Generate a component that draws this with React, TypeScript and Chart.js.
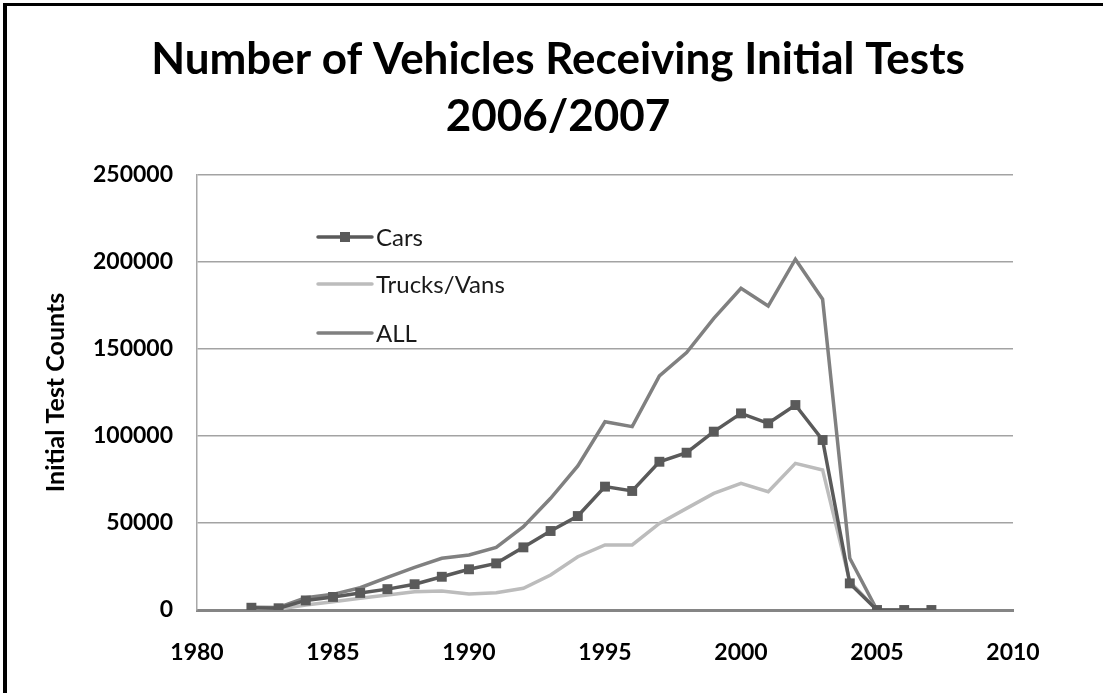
import React, { useEffect, useRef } from "react";
import { Chart, registerables } from "chart.js";

Chart.register(...registerables);

const years = [1982, 1983, 1984, 1985, 1986, 1987, 1988, 1989, 1990, 1991, 1992, 1993, 1994, 1995, 1996, 1997, 1998, 1999, 2000, 2001, 2002, 2003, 2004, 2005, 2006, 2007];
const cars = [1300, 1000, 5500, 7500, 9800, 12000, 14800, 19100, 23400, 26800, 36000, 45400, 54000, 70900, 68400, 85200, 90400, 102500, 113000, 107300, 117800, 97700, 15300, 0, 0, 0];
const trucksVans = [300, 500, 2900, 4800, 6700, 8600, 10500, 10900, 9200, 9900, 12500, 20100, 30600, 37400, 37400, 49800, 58400, 67000, 72800, 68000, 84300, 80500, 16300, 0, 0, 0];
const all = [1600, 1500, 7000, 9000, 12800, 18800, 24500, 29700, 31600, 36000, 47900, 64200, 82800, 108200, 105400, 134500, 147900, 167600, 184900, 174700, 201600, 178600, 29700, 0, 0, 0];

const seriesNames = ["Cars", "Trucks/Vans", "ALL"];
const titleLines = ["Number of Vehicles Receiving Initial Tests", "2006/2007"];
const yAxisTitle = "Initial Test Counts";

const FONT = "Lato, 'DejaVu Sans', sans-serif";

const titlePlugin = {
  id: "pageTitle",
  afterDraw(chart: any) {
    const ctx = chart.ctx;
    ctx.save();
    ctx.fillStyle = "#000";
    ctx.font = `bold 44px ${FONT}`;
    ctx.textAlign = "center";
    ctx.textBaseline = "alphabetic";
    const cx = 558;
    const baselines = [74, 131];
    titleLines.forEach((line, i) => ctx.fillText(line, cx, baselines[i]));
    ctx.restore();
  },
};

const legendPlugin = {
  id: "insideLegend",
  afterDatasetsDraw(chart: any) {
    const ctx = chart.ctx;
    const rows = [237, 284, 333];
    const x0 = 318;
    const x1 = 372;
    ctx.save();
    chart.data.datasets.forEach((ds: any, i: number) => {
      const y = rows[i];
      ctx.strokeStyle = ds.borderColor;
      ctx.lineWidth = ds.borderWidth;
      ctx.lineCap = "round";
      ctx.beginPath();
      ctx.moveTo(x0, y);
      ctx.lineTo(x1, y);
      ctx.stroke();
      if (ds.pointRadius > 0) {
        ctx.fillStyle = ds.pointBackgroundColor;
        const s = 10;
        ctx.fillRect((x0 + x1) / 2 - s / 2, y - s / 2, s, s);
      }
      ctx.fillStyle = "#1a1a1a";
      ctx.font = `24px ${FONT}`;
      ctx.textBaseline = "middle";
      ctx.textAlign = "left";
      ctx.fillText(ds.label, x1 + 4, y + 1);
    });
    ctx.restore();
  },
};

export default function App() {
  const canvasRef = useRef<HTMLCanvasElement | null>(null);

  useEffect(() => {
    let chart: Chart | null = null;
    let cancelled = false;
    const make = () => {
      if (cancelled || !canvasRef.current) return;
      const toXY = (arr: number[]) => arr.map((v, i) => ({ x: years[i], y: v }));
      chart = new Chart(canvasRef.current, {
        type: "line",
        data: {
          datasets: [
            {
              label: seriesNames[0],
              data: toXY(cars),
              borderColor: "#5a5a5a",
              backgroundColor: "#5a5a5a",
              pointBackgroundColor: "#5a5a5a",
              pointBorderWidth: 0,
              borderWidth: 3.5,
              pointStyle: "rect",
              pointRadius: 7,
              tension: 0,
            },
            {
              label: seriesNames[1],
              data: toXY(trucksVans),
              borderColor: "#bcbcbc",
              backgroundColor: "#bcbcbc",
              pointBackgroundColor: "#bcbcbc",
              borderWidth: 3.5,
              pointRadius: 0,
              tension: 0,
            },
            {
              label: seriesNames[2],
              data: toXY(all),
              borderColor: "#808080",
              backgroundColor: "#808080",
              pointBackgroundColor: "#808080",
              borderWidth: 3.5,
              pointRadius: 0,
              tension: 0,
            },
          ],
        },
        options: {
          animation: false,
          responsive: true,
          maintainAspectRatio: false,
          layout: { padding: { left: 0, right: 90, top: 175, bottom: 0 } },
          plugins: {
            legend: { display: false },
            tooltip: { enabled: false },
            title: { display: false },
          },
          scales: {
            x: {
              type: "linear",
              min: 1980,
              max: 2010,
              afterFit: (s: any) => {
                s.height = 83;
              },
              ticks: {
                stepSize: 5,
                padding: 29,
                color: "#000",
                font: { family: FONT, size: 23, weight: "bold" },
                callback: (v: any) => String(v),
              },
              grid: { display: false, drawTicks: false },
              border: { display: true, color: "#858585", width: 3 },
            },
            y: {
              min: 0,
              max: 250000,
              afterFit: (s: any) => {
                s.width = 197;
              },
              ticks: {
                stepSize: 50000,
                padding: 24,
                color: "#000",
                font: { family: FONT, size: 23, weight: "bold" },
                callback: (v: any) => String(v),
              },
              grid: { color: "#a3a3a3", lineWidth: 1.5, drawTicks: false },
              border: { display: true, color: "#a8a8a8", width: 1.5 },
              title: {
                display: true,
                text: yAxisTitle,
                color: "#000",
                font: { family: FONT, size: 25, weight: "bold", lineHeight: 1.2 },
                padding: { top: 41, bottom: 0 },
              },
            },
          },
        },
        plugins: [legendPlugin, titlePlugin],
      });
    };
    const fontsReady = (document as any).fonts
      ? Promise.all([
          (document as any).fonts.load(`bold 20px Lato`),
          (document as any).fonts.load(`20px Lato`),
        ]).catch(() => null)
      : Promise.resolve();
    fontsReady.then(make);
    return () => {
      cancelled = true;
      if (chart) chart.destroy();
    };
  }, []);

  return (
    <div
      style={{
        position: "fixed",
        left: 0,
        top: 0,
        width: 1103,
        height: 693,
        overflow: "hidden",
        background: "#fff",
      }}
    >
      <div style={{ position: "absolute", left: 0, top: 0, width: 1103, height: 693 }}>
        <canvas ref={canvasRef} />
      </div>
      <div
        style={{
          position: "absolute",
          left: 3,
          top: 3,
          width: 1200,
          height: 800,
          borderLeft: "4px solid #000",
          borderTop: "3px solid #000",
          pointerEvents: "none",
        }}
      />
    </div>
  );
}
